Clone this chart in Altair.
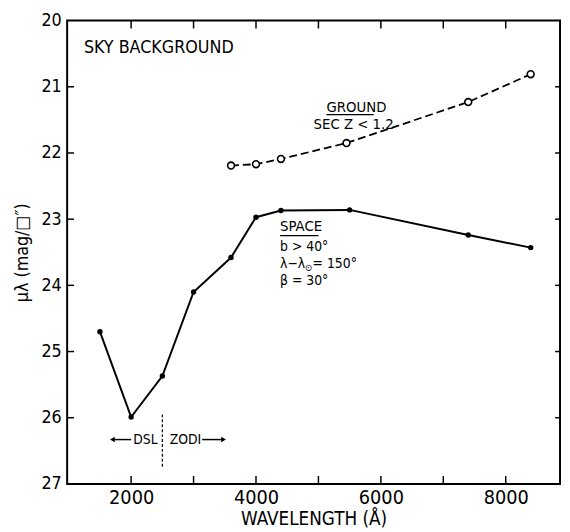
import altair as alt
import pandas as pd

# ---- data ----
space_wl = [1500, 2000, 2500, 3000, 3600, 4000, 4400, 5500, 7400, 8400]
space_mu = [24.70, 25.99, 25.37, 24.10, 23.58, 22.97, 22.87, 22.86, 23.24, 23.43]

ground_wl = [3600, 4000, 4400, 5450, 7400, 8400]
ground_mu = [22.19, 22.17, 22.09, 21.85, 21.23, 20.81]

x_ticks = [2000, 3000, 4000, 5000, 6000, 7000, 8000]
x_labels = [2000, 4000, 6000, 8000]
y_ticks = [21, 22, 23, 24, 25, 26]
y_labels = [20, 21, 22, 23, 24, 25, 26, 27]

X_DOMAIN = [975, 8870]
Y_DOMAIN = [20, 27]

FONT = "DejaVu Sans Condensed, DejaVu Sans, sans-serif"
W, H = 500, 470

space = pd.DataFrame({"wl": space_wl, "mu": space_mu})
ground = pd.DataFrame({"wl": ground_wl, "mu": ground_mu})

xs = alt.Scale(domain=X_DOMAIN, nice=False, zero=False)
ys = alt.Scale(domain=Y_DOMAIN, nice=False, zero=False, reverse=True)

xenc = alt.X("wl:Q", scale=xs,
             axis=alt.Axis(values=x_labels, ticks=False, domain=False, grid=False,
                           title="WAVELENGTH (Å)", labelFont=FONT, labelFontSize=20,
                           labelColor="black", titleFont=FONT, titleFontSize=19,
                           titleFontWeight="normal", titleColor="black",
                           labelPadding=4, titlePadding=2, format="d"))
yenc = alt.Y("mu:Q", scale=ys,
             axis=alt.Axis(values=y_labels, ticks=False, domain=False, grid=False,
                           title="μλ (mag/□″)", labelFont=FONT, labelFontSize=18,
                           labelColor="black", titleFont=FONT, titleFontSize=18,
                           titleFontWeight="normal", titleColor="black",
                           labelPadding=6, titlePadding=10, format="d"))

space_line = alt.Chart(space).mark_line(color="black", strokeWidth=2).encode(x=xenc, y=yenc)
space_pts = alt.Chart(space).mark_point(filled=True, color="black", size=30, opacity=1).encode(
    x="wl:Q", y="mu:Q")

ground_line = alt.Chart(ground).mark_line(color="black", strokeWidth=1.8,
                                          strokeDash=[8, 4]).encode(x="wl:Q", y="mu:Q")
ground_pts = alt.Chart(ground).mark_point(shape="circle", fill="white", filled=False,
                                          stroke="black", strokeWidth=1.6, size=48,
                                          opacity=1, fillOpacity=1).encode(x="wl:Q", y="mu:Q")

# inward ticks
yt = pd.DataFrame({"mu": y_ticks})
xt = pd.DataFrame({"wl": x_ticks})
left_ticks = alt.Chart(yt).mark_rule(color="black", strokeWidth=1.5).encode(
    y="mu:Q", x=alt.value(0), x2=alt.value(7))
right_ticks = alt.Chart(yt).mark_rule(color="black", strokeWidth=1.5).encode(
    y="mu:Q", x=alt.value(W), x2=alt.value(W - 5))
bottom_ticks = alt.Chart(xt).mark_rule(color="black", strokeWidth=1.5).encode(
    x="wl:Q", y=alt.value(H), y2=alt.value(H - 8))
top_ticks = alt.Chart(xt).mark_rule(color="black", strokeWidth=1.5).encode(
    x="wl:Q", y=alt.value(0), y2=alt.value(8))

# annotations
ann_wl = [1243, 5130, 4923, 4386, 4386, 4386]
ann_mu = [20.41, 21.30, 21.57, 23.10, 23.42, 23.93]
ann_txt = ["SKY BACKGROUND", "GROUND", "SEC Z < 1.2", "SPACE", "b > 40°", "β = 30°"]
ann_size = [18, 15, 15, 15, 14, 14]
ann = pd.DataFrame({"wl": ann_wl, "mu": ann_mu, "t": ann_txt, "s": ann_size})
ann_text = alt.Chart(ann).mark_text(align="left", baseline="middle", font=FONT,
                                    color="black").encode(
    x="wl:Q", y="mu:Q", text="t:N", size=alt.Size("s:Q", scale=None, legend=None))

# λ−λ⊙ = 150° with subscript sun symbol
lam = pd.DataFrame({"wl": [4386], "mu": [23.68]})
lam1 = alt.Chart(lam).mark_text(align="left", baseline="middle", font=FONT, fontSize=14,
                                color="black", text="λ−λ").encode(x="wl:Q", y="mu:Q")
lam2 = alt.Chart(lam).mark_text(align="left", baseline="middle", font=FONT, fontSize=10,
                                color="black", text="⊙", dx=25, dy=4).encode(x="wl:Q", y="mu:Q")
lam3 = alt.Chart(lam).mark_text(align="left", baseline="middle", font=FONT, fontSize=14,
                                color="black", text="= 150°", dx=33).encode(x="wl:Q", y="mu:Q")

ul = pd.DataFrame({"wl": [5128, 4386], "wl2": [5886, 5002], "mu": [21.42, 23.25]})
underlines = alt.Chart(ul).mark_rule(color="black", strokeWidth=1.3).encode(
    x="wl:Q", x2="wl2:Q", y="mu:Q")

# DSL / ZODI marker
dz = pd.DataFrame({"wl": [2033, 2617], "mu": [26.33, 26.33], "t": ["DSL", "ZODI"]})
dz_text = alt.Chart(dz).mark_text(align="left", baseline="middle", font=FONT, fontSize=14,
                                  color="black").encode(x="wl:Q", y="mu:Q", text="t:N")
arr = pd.DataFrame({"wl": [1700, 3138], "wl2": [2001, 3480], "mu": [26.33, 26.33]})
arr_lines = alt.Chart(arr).mark_rule(color="black", strokeWidth=1.5).encode(
    x="wl:Q", x2="wl2:Q", y="mu:Q")
heads = pd.DataFrame({"wl": [1700, 3480], "mu": [26.33, 26.33],
                      "sh": ["triangle-left", "triangle-right"]})
arr_heads = alt.Chart(heads).mark_point(filled=True, color="black", size=30, opacity=1).encode(
    x="wl:Q", y="mu:Q", shape=alt.Shape("sh:N", scale=None, legend=None))
div = pd.DataFrame({"wl": [2500], "mu": [25.95], "mu2": [26.75]})
divider = alt.Chart(div).mark_rule(color="black", strokeWidth=1.2, strokeDash=[3, 2]).encode(
    x="wl:Q", y="mu:Q", y2="mu2:Q")

chart = alt.layer(
    space_line, space_pts, ground_line, ground_pts,
    left_ticks, right_ticks, bottom_ticks, top_ticks,
    ann_text, lam1, lam2, lam3, underlines, dz_text, arr_lines, arr_heads, divider,
).properties(
    width=W, height=H,
    autosize=alt.AutoSizeParams(type="none"),
    padding={"left": 60, "top": 9, "right": 2, "bottom": 45},
    background="white",
).configure_view(stroke="black", strokeWidth=2)

chart.save("out.html", embed_options={"renderer": "svg", "actions": False})
